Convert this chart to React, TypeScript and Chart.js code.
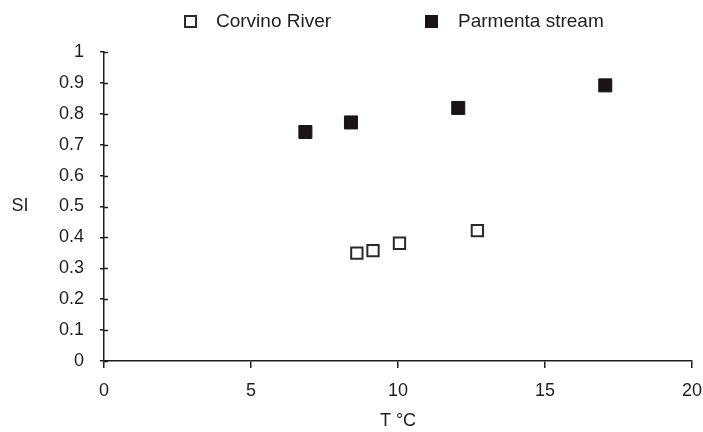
import React, { useEffect, useRef } from "react";
import { Chart, registerables } from "chart.js";

Chart.register(...registerables);

const seriesNames = ["Corvino River", "Parmenta stream"];
const corvinoT = [8.6, 9.15, 10.05, 12.7];
const corvinoSI = [0.349, 0.357, 0.381, 0.422];
const parmentaT = [6.85, 8.4, 12.05, 17.05];
const parmentaSI = [0.741, 0.772, 0.819, 0.892];
const xTickLabels = ["0", "5", "10", "15", "20"];
const yTickLabels = ["0", "0.1", "0.2", "0.3", "0.4", "0.5", "0.6", "0.7", "0.8", "0.9", "1"];
const xTitle = "T °C";
const yTitle = "SI";

const FONT = "'Liberation Sans', Arial, sans-serif";
const INK = "#1e1e1e";

const extrasPlugin = {
  id: "extras",
  afterDraw(chart: any) {
    const ctx = chart.ctx as CanvasRenderingContext2D;
    const y = chart.scales.y;
    const x = chart.scales.x;
    ctx.save();
    // inner half of y tick marks (crossing ticks)
    ctx.strokeStyle = INK;
    ctx.lineWidth = 1.5;
    y.ticks.forEach((t: any) => {
      const py = Math.round(y.getPixelForValue(t.value)) + 0.5;
      ctx.beginPath();
      ctx.moveTo(x.left, py);
      ctx.lineTo(x.left + 4, py);
      ctx.stroke();
    });
    // horizontal y title
    ctx.fillStyle = INK;
    ctx.font = `18px ${FONT}`;
    ctx.textAlign = "center";
    ctx.textBaseline = "middle";
    ctx.fillText(yTitle, 20, y.getPixelForValue(0.5));
    // legend
    ctx.font = `19px ${FONT}`;
    ctx.textAlign = "left";
    const ly = 22;
    ctx.lineWidth = 2;
    ctx.strokeStyle = "#2a2a2a";
    ctx.strokeRect(185, ly - 6, 11, 11);
    ctx.fillText(seriesNames[0], 216, ly);
    ctx.fillStyle = "#1a1414";
    ctx.fillRect(425, ly - 7, 13, 13);
    ctx.fillStyle = INK;
    ctx.fillText(seriesNames[1], 458, ly);
    ctx.restore();
  },
};

export default function App() {
  const ref = useRef<HTMLCanvasElement | null>(null);
  useEffect(() => {
    if (!ref.current) return;
    const chart = new Chart(ref.current, {
      type: "scatter",
      data: {
        datasets: [
          {
            label: seriesNames[0],
            data: corvinoT.map((t, i) => ({ x: t, y: corvinoSI[i] })),
            pointStyle: "rect",
            pointRadius: 8,
            pointBackgroundColor: "#ffffff",
            pointBorderColor: "#2a2a2a",
            pointBorderWidth: 2,
          },
          {
            label: seriesNames[1],
            data: parmentaT.map((t, i) => ({ x: t, y: parmentaSI[i] })),
            pointStyle: "rect",
            pointRadius: 9.2,
            pointBackgroundColor: "#1a1414",
            pointBorderColor: "#1a1414",
            pointBorderWidth: 1,
          },
        ],
      },
      options: {
        animation: false,
        responsive: false,
        devicePixelRatio: 1,
        layout: { padding: { left: 0, top: 52, right: 11, bottom: 0 } },
        plugins: { legend: { display: false }, tooltip: { enabled: false } },
        scales: {
          x: {
            type: "linear",
            min: 0,
            max: 20,
            afterFit: (s: any) => {
              s.height = 71;
              s.paddingRight = 0;
              s.paddingLeft = 0;
            },
            ticks: {
              stepSize: 5,
              padding: 12,
              color: INK,
              font: { family: FONT, size: 18 },
              callback: (v: any) => xTickLabels[Math.round(Number(v) / 5)] ?? "",
            },
            grid: {
              display: true,
              drawOnChartArea: false,
              drawTicks: true,
              tickLength: 7,
              color: INK,
              lineWidth: 1.5,
            },
            border: { display: true, color: INK, width: 1.5 },
            title: {
              display: true,
              text: xTitle,
              color: INK,
              font: { family: FONT, size: 18 },
              padding: { top: 0, bottom: 0 },
            },
          },
          y: {
            type: "linear",
            min: 0,
            max: 1,
            afterFit: (s: any) => {
              s.width = 104;
              s.paddingTop = 0;
              s.paddingBottom = 0;
            },
            ticks: {
              stepSize: 0.1,
              padding: 16,
              color: INK,
              font: { family: FONT, size: 18 },
              callback: (v: any) => yTickLabels[Math.round(Number(v) * 10)] ?? "",
            },
            grid: {
              display: true,
              drawOnChartArea: false,
              drawTicks: true,
              tickLength: 4,
              color: INK,
              lineWidth: 1.5,
            },
            border: { display: true, color: INK, width: 1.5 },
          },
        },
      },
      plugins: [extrasPlugin],
    });
    return () => chart.destroy();
  }, []);
  return (
    <div style={{ position: "fixed", left: 0, top: 0, width: 703, height: 432, background: "#fff" }}>
      <canvas ref={ref} width={703} height={432} />
    </div>
  );
}
